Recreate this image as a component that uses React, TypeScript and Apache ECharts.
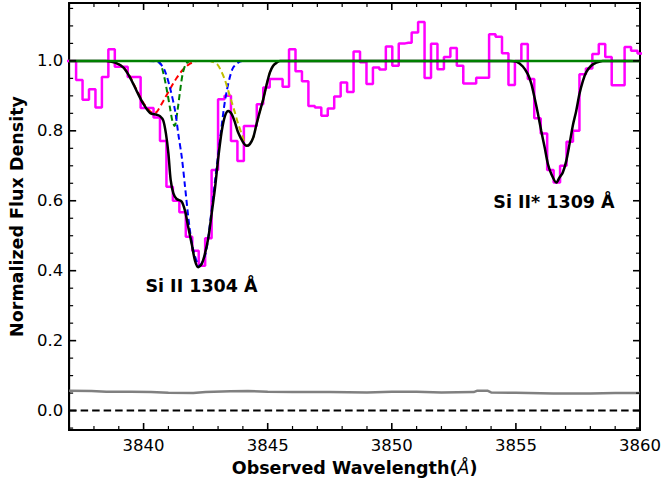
import React, { useEffect, useRef } from "react";
import * as echarts from "echarts";

// ---- observed flux (bin centres, Å) ----
const fluxWave = [
  3836.89, 3837.15, 3837.41, 3837.67, 3837.93, 3838.19, 3838.45, 3838.71, 3838.97, 3839.23,
  3839.49, 3839.75, 3840.01, 3840.27, 3840.53, 3840.79, 3841.05, 3841.31, 3841.57, 3841.83,
  3842.09, 3842.35, 3842.61, 3842.87, 3843.13, 3843.39, 3843.65, 3843.91, 3844.17, 3844.43,
  3844.69, 3844.95, 3845.21, 3845.47, 3845.73, 3845.99, 3846.25, 3846.51, 3846.77, 3847.03,
  3847.29, 3847.55, 3847.81, 3848.07, 3848.33, 3848.59, 3848.85, 3849.11, 3849.37, 3849.63,
  3849.89, 3850.15, 3850.41, 3850.67, 3850.93, 3851.19, 3851.45, 3851.71, 3851.97, 3852.23,
  3852.49, 3852.75, 3853.01, 3853.27, 3853.53, 3853.79, 3854.05, 3854.31, 3854.57, 3854.83,
  3855.09, 3855.35, 3855.61, 3855.87, 3856.13, 3856.39, 3856.65, 3856.91, 3857.17, 3857.43,
  3857.69, 3857.95, 3858.21, 3858.47, 3858.73, 3858.99, 3859.25, 3859.51, 3859.77, 3860.03,
  3860.29,
];
const fluxValues = [
  1.0, 1.0, 0.945, 0.889, 0.919, 0.867, 0.954, 1.033, 0.983, 0.983,
  0.954, 0.954, 0.865, 0.865, 0.838, 0.771, 0.64, 0.6, 0.567, 0.497,
  0.457, 0.414, 0.493, 0.688, 0.89, 0.9, 0.771, 0.714, 0.814, 0.814,
  0.876, 0.924, 0.948, 0.948, 0.926, 1.033, 0.97, 0.942, 0.871, 0.867,
  0.843, 0.864, 0.898, 0.938, 0.911, 1.027, 0.996, 0.934, 0.981, 0.975,
  1.041, 0.986, 1.05, 1.052, 1.081, 1.111, 0.951, 1.049, 0.976, 1.011,
  1.037, 0.986, 0.935, 0.935, 0.952, 0.952, 1.076, 1.069, 1.022, 0.931,
  1.0, 1.048, 0.948, 0.836, 0.792, 0.688, 0.652, 0.7, 0.769, 0.8,
  0.962, 0.978, 1.02, 1.048, 1.011, 0.93, 0.93, 1.04, 1.029, 1.021,
  1.021,
];

// ---- error spectrum ----
const errWave = [
  3837.0, 3837.9, 3838.5, 3839.5, 3840.3, 3841.0, 3842.0, 3842.5, 3843.5, 3844.2,
  3845.0, 3846.0, 3847.5, 3849.0, 3850.0, 3851.0, 3852.0, 3853.3, 3853.45, 3853.85,
  3854.0, 3855.0, 3856.5, 3858.0, 3859.0, 3860.0,
];
const errValues = [
  0.057, 0.056, 0.054, 0.054, 0.053, 0.051, 0.05, 0.053, 0.055, 0.056,
  0.054, 0.053, 0.053, 0.052, 0.054, 0.054, 0.052, 0.053, 0.057, 0.057,
  0.052, 0.051, 0.049, 0.049, 0.05, 0.05,
];

// ---- total model fit ----
const modelWave = [
  3837.0, 3838.48, 3838.85, 3839.19, 3839.45, 3839.72, 3839.99, 3840.26, 3840.53, 3840.66,
  3840.79, 3840.9, 3841.0, 3841.09, 3841.2, 3841.33, 3841.53, 3841.67, 3841.8, 3841.94,
  3842.07, 3842.2, 3842.34, 3842.47, 3842.61, 3842.74, 3842.88, 3843.01, 3843.15, 3843.28,
  3843.41, 3843.55, 3843.68, 3843.81, 3844.01, 3844.15, 3844.28, 3844.42, 3844.55, 3844.69,
  3844.82, 3844.96, 3845.09, 3845.22, 3845.36, 3845.49, 3854.75, 3855.02, 3855.28, 3855.48,
  3855.62, 3855.75, 3855.89, 3856.02, 3856.16, 3856.29, 3856.43, 3856.63, 3856.76, 3856.89,
  3857.03, 3857.16, 3857.29, 3857.43, 3857.56, 3857.7, 3857.83, 3858.03, 3858.24, 3858.5,
  3860.0,
];
const modelFlux = [
  1.0, 1.0, 0.995, 0.981, 0.953, 0.914, 0.877, 0.851, 0.846, 0.842,
  0.83, 0.792, 0.735, 0.66, 0.621, 0.605, 0.598, 0.571, 0.524, 0.476,
  0.429, 0.41, 0.419, 0.448, 0.495, 0.562, 0.638, 0.724, 0.8, 0.843,
  0.857, 0.848, 0.824, 0.795, 0.767, 0.757, 0.762, 0.781, 0.819, 0.857,
  0.89, 0.933, 0.967, 0.986, 0.995, 1.0, 1.0, 0.998, 0.984, 0.962,
  0.935, 0.895, 0.848, 0.8, 0.752, 0.705, 0.676, 0.652, 0.667, 0.681,
  0.714, 0.762, 0.814, 0.857, 0.905, 0.943, 0.967, 0.986, 0.995, 1.0,
  1.0,
];

// ---- individual components (dashed) ----
const redWave = [3838.5, 3838.85, 3839.19, 3839.45, 3839.72, 3839.99, 3840.26, 3840.42, 3840.53, 3840.8, 3841.06, 3841.33, 3841.6, 3841.87, 3842.14];
const redFlux = [1.0, 0.995, 0.981, 0.955, 0.917, 0.88, 0.856, 0.85, 0.854, 0.886, 0.919, 0.951, 0.976, 0.992, 1.0];

const greenWave = [3840.53, 3840.66, 3840.79, 3840.93, 3841.06, 3841.17, 3841.25, 3841.36, 3841.47, 3841.58, 3841.71, 3841.87];
const greenFlux = [1.0, 0.994, 0.967, 0.919, 0.867, 0.825, 0.814, 0.855, 0.914, 0.965, 0.992, 1.0];

const blueWave = [3840.2, 3840.45, 3840.66, 3840.86, 3841.06, 3841.27, 3841.4, 3841.54, 3841.67, 3841.84, 3842.0, 3842.25, 3842.5, 3842.7, 3842.9, 3843.08, 3843.24, 3843.35, 3843.48, 3843.61, 3843.81, 3844.01];
const blueFlux = [1.0, 0.999, 0.993, 0.971, 0.924, 0.857, 0.79, 0.724, 0.64, 0.53, 0.46, 0.415, 0.45, 0.55, 0.67, 0.775, 0.867, 0.914, 0.955, 0.981, 0.995, 1.0];

const yellowWave = [3842.6, 3842.74, 3842.97, 3843.15, 3843.28, 3843.41, 3843.55, 3843.68, 3843.81, 3843.95, 3844.15, 3844.28, 3844.42, 3844.55, 3844.69, 3844.82, 3844.96, 3845.09, 3845.22, 3845.36, 3845.49];
const yellowFlux = [1.0, 0.998, 0.99, 0.967, 0.945, 0.915, 0.882, 0.852, 0.82, 0.792, 0.757, 0.762, 0.781, 0.819, 0.857, 0.89, 0.933, 0.967, 0.986, 0.995, 1.0];

const continuumWave = [3837, 3860];
const continuumFlux = [1.0, 1.0];
const zeroFlux = [0.0, 0.0];

// ---- ticks ----
const xMajorTicks = [3840, 3845, 3850, 3855, 3860];
const xMinorTicks = [3837, 3838, 3839, 3841, 3842, 3843, 3844, 3846, 3847, 3848, 3849, 3851, 3852, 3853, 3854, 3856, 3857, 3858, 3859];
const yMajorTicks = [0, 0.2, 0.4, 0.6, 0.8, 1.0];
const yMinorTicks = [-0.05, 0.05, 0.1, 0.15, 0.25, 0.3, 0.35, 0.45, 0.5, 0.55, 0.65, 0.7, 0.75, 0.85, 0.9, 0.95, 1.05, 1.1, 1.15];

const X_MIN = 3837;
const X_MAX = 3860;
const Y_MIN = -0.0555;
const Y_MAX = 1.1655;

const FONT = '"DejaVu Sans", "Liberation Sans", sans-serif';

const zip = (xs: number[], ys: number[]) => xs.map((x, i) => [x, ys[i]]);

// custom series drawing inward ticks on both sides of the frame
function tickSeries(values: number[], dir: "x" | "y", len: number, width: number) {
  return {
    type: "custom",
    silent: true,
    clip: false,
    z: 10,
    data: values.map((v) => (dir === "x" ? [v, 0] : [X_MIN, v])),
    encode: { x: 0, y: 1 },
    renderItem: (_params: any, api: any) => {
      const style = { stroke: "#000", lineWidth: width };
      if (dir === "x") {
        const v = api.value(0);
        const b = api.coord([v, Y_MIN]);
        const t = api.coord([v, Y_MAX]);
        return {
          type: "group",
          children: [
            { type: "line", shape: { x1: b[0], y1: b[1], x2: b[0], y2: b[1] - len }, style },
            { type: "line", shape: { x1: t[0], y1: t[1], x2: t[0], y2: t[1] + len }, style },
          ],
        };
      }
      const v = api.value(1);
      const l = api.coord([X_MIN, v]);
      const r = api.coord([X_MAX, v]);
      return {
        type: "group",
        children: [
          { type: "line", shape: { x1: l[0], y1: l[1], x2: l[0] + len, y2: l[1] }, style },
          { type: "line", shape: { x1: r[0], y1: r[1], x2: r[0] - len, y2: r[1] }, style },
        ],
      };
    },
  };
}

export default function App() {
  const ref = useRef<HTMLDivElement>(null);

  useEffect(() => {
    if (!ref.current) return;
    const chart = echarts.init(ref.current, undefined, { renderer: "svg" });

    const dashed = (name: string, xs: number[], ys: number[], color: string) => ({
      name,
      type: "line",
      data: zip(xs, ys),
      symbol: "none",
      smooth: 0.3,
      lineStyle: { color, width: 2, type: [6, 3.5] },
      silent: true,
    });

    const option: any = {
      animation: false,
      backgroundColor: "#fff",
      grid: { left: 69, right: 25, top: 3, bottom: 56, containLabel: false, show: true, borderColor: "#000", borderWidth: 2, backgroundColor: "transparent" },
      xAxis: [
        {
          type: "value",
          min: X_MIN,
          max: X_MAX,
          position: "bottom",
          axisLine: { show: true, onZero: false, lineStyle: { color: "#000", width: 2 } },
          axisTick: { show: false },
          axisLabel: {
            show: true,
            customValues: xMajorTicks,
            margin: 7,
            fontSize: 16.5,
            color: "#000",
            fontFamily: FONT,
            formatter: (v: number) => String(Math.round(v)),
          },
          splitLine: { show: false },
          name: "{b|Observed Wavelength(}{i|Å}{b|)}",
          nameLocation: "middle",
          nameGap: 28,
          nameTextStyle: {
            rich: {
              b: { fontSize: 17.5, fontWeight: "bold", fontFamily: FONT, color: "#000" },
              i: { fontSize: 17.5, fontStyle: "italic", fontFamily: FONT, color: "#000" },
            },
          },
        },
      ],
      yAxis: [
        {
          type: "value",
          min: Y_MIN,
          max: Y_MAX,
          position: "left",
          axisLine: { show: true, onZero: false, lineStyle: { color: "#000", width: 2 } },
          axisTick: { show: false },
          axisLabel: {
            show: true,
            customValues: yMajorTicks,
            margin: 6,
            fontSize: 16.5,
            color: "#000",
            fontFamily: FONT,
            formatter: (v: number) => v.toFixed(1),
          },
          splitLine: { show: false },
          name: "Normalized Flux Density",
          nameLocation: "middle",
          nameGap: 38,
          nameTextStyle: { fontSize: 17.5, fontWeight: "bold", fontFamily: FONT, color: "#000" },
        },
      ],
      series: [
        {
          name: "flux",
          type: "line",
          step: "middle",
          data: zip(fluxWave, fluxValues),
          symbol: "none",
          lineStyle: { color: "#ff00ff", width: 2.5 },
          clip: true,
        },
        {
          name: "error",
          type: "line",
          data: zip(errWave, errValues),
          symbol: "none",
          lineStyle: { color: "#808080", width: 2.5 },
        },
        {
          name: "zero",
          type: "line",
          data: zip(continuumWave, zeroFlux),
          symbol: "none",
          lineStyle: { color: "#000", width: 2, type: [7.5, 4] },
        },
        dashed("comp1", redWave, redFlux, "#ff0000"),
        dashed("comp2", greenWave, greenFlux, "#008000"),
        dashed("comp3", blueWave, blueFlux, "#0000ff"),
        dashed("comp4", yellowWave, yellowFlux, "#bfbf00"),
        {
          name: "model",
          type: "line",
          data: zip(modelWave, modelFlux),
          symbol: "none",
          smooth: 0.3,
          lineStyle: { color: "#000", width: 2.5 },
        },
        {
          name: "continuum",
          type: "line",
          data: zip(continuumWave, continuumFlux),
          symbol: "none",
          lineStyle: { color: "#008000", width: 2.5 },
        },
        tickSeries(xMajorTicks, "x", 7, 1.6),
        tickSeries(xMinorTicks, "x", 4, 1.2),
        tickSeries(yMajorTicks, "y", 7, 1.6),
        tickSeries(yMinorTicks, "y", 4, 1.2),
      ],
      graphic: [
        {
          type: "text",
          x: 201.5,
          y: 286,
          style: { text: "Si II 1304 Å", fontSize: 17.5, fontWeight: "bold", fontFamily: FONT, fill: "#000", align: "center", verticalAlign: "middle" },
        },
        {
          type: "text",
          x: 554,
          y: 202,
          style: { text: "Si II* 1309 Å", fontSize: 17.5, fontWeight: "bold", fontFamily: FONT, fill: "#000", align: "center", verticalAlign: "middle" },
        },
      ],
    };

    chart.setOption(option);
    return () => chart.dispose();
  }, []);

  return (
    <div
      ref={ref}
      style={{ position: "fixed", left: 0, top: 0, width: 665, height: 486, background: "#fff" }}
    />
  );
}
